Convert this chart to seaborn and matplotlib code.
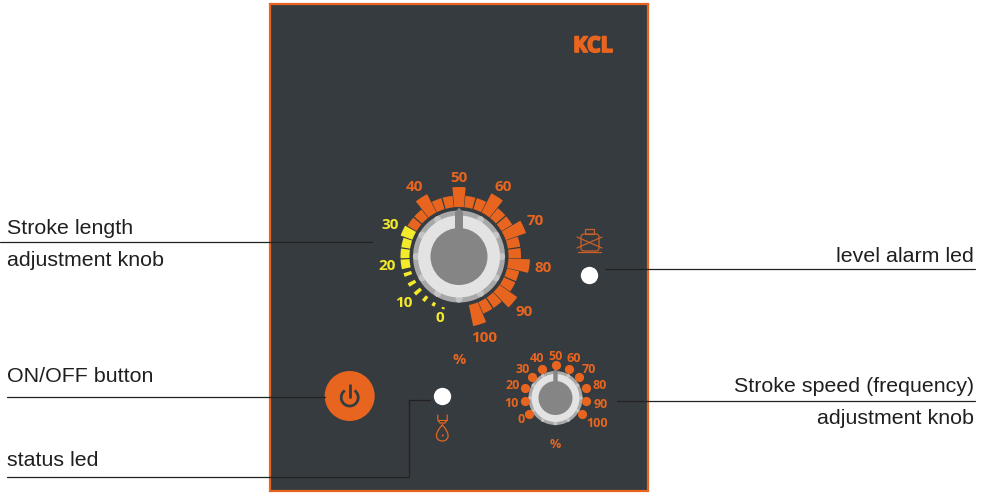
import numpy as np
import pandas as pd
import seaborn as sns
import matplotlib.pyplot as plt
import matplotlib.patheffects as pe
from matplotlib.patches import Circle, Rectangle, Polygon, Arc, FancyBboxPatch

W, H = 987, 493

# big dial: one bar per step of the 0-100 scale
big_labels = ['0', '10', '20', '30', '40', '50', '60', '70', '80', '90', '100']
big_label_r = [64, 72, 73, 76, 82, 79, 82, 84, 85, 85, 85]
bar_steps = list(range(31))
bar_tops = [55, 56, 57, 58, 58, 58, 58.5, 58.5, 58.5, 62, 60, 60, 70, 61, 61, 69.5,
            61, 61, 71, 62, 62, 71, 62, 62, 71, 62, 62, 71, 62, 62, 71]
bar_bottoms = [53, 52, 51, 50, 50, 50, 49.5, 49.5, 49.5, 49.5, 49.5, 49.5, 49.5, 49.5, 49.5, 49.5,
               49.5, 49.5, 49.5, 49.5, 49.5, 49.5, 49.5, 49.5, 49.5, 49.5, 49.5, 49.5, 49.5, 49.5, 49.5]
bar_widths = [3, 3.4, 3.6, 3.8, 3.8, 3.8, 9.6, 9.6, 9.6, 10, 9.6, 9.6, 11, 9.6, 9.6, 11,
              9.6, 9.6, 11, 9.6, 9.6, 11, 9.6, 9.6, 11, 9.6, 9.6, 11, 9.6, 9.6, 11]
yellow_steps = 10

# small dial
small_labels = ['0', '10', '20', '30', '40', '50', '60', '70', '80', '90', '100']
small_label_r = [40, 44, 45, 44, 45, 43, 45, 45, 46, 45, 47.5]
small_dot_r = [31, 31, 32, 32, 32, 33, 32, 32, 32, 31, 31]

orange = '#e8651f'
yellow = '#f4ea2c'
panel = '#363b3f'
line = '#222222'
ink = '#1f1f1f'

sns.set_theme(style='white')
plt.rcParams['font.family'] = ['Liberation Sans', 'DejaVu Sans']

fig = plt.figure(figsize=(W / 100, H / 100), dpi=100, facecolor='white')
ax = fig.add_axes([0, 0, 1, 1])
ax.set_xlim(0, W)
ax.set_ylim(H, 0)
ax.axis('off')

ax.add_patch(Rectangle((270, 4), 378, 487, fc=panel, ec=orange, lw=1.6))


def leader(xs, ys):
    pts = pd.DataFrame({'x': xs, 'y': ys, 'o': range(len(xs))})
    sns.lineplot(data=pts, x='x', y='y', sort=False, estimator=None, color=line,
                 lw=0.9, ax=ax, legend=False)


leader([0, 372], [242, 242])
leader([605, 975], [269, 269])
leader([7, 325], [397, 397])
leader([617, 975], [401, 401])
leader([7, 409, 409, 430], [476.5, 476.5, 400, 400])
ax.set_xlabel('')
ax.set_ylabel('')

for s, x, y, ha in [('Stroke length', 7, 228, 'left'),
                    ('adjustment knob', 7, 260, 'left'),
                    ('ON/OFF button', 7, 376, 'left'),
                    ('status led', 7, 460, 'left'),
                    ('level alarm led', 974, 256, 'right'),
                    ('Stroke speed (frequency)', 974, 386, 'right'),
                    ('adjustment knob', 974, 418, 'right')]:
    ax.text(x, y, s, ha=ha, va='center', fontsize=15.4, color=ink)

kcl = ax.text(593, 46.5, 'KCL', ha='center', va='center', color=orange, fontsize=15.5,
              family='Open Sans', weight='bold')
kcl.set_path_effects([pe.Stroke(linewidth=1.3, foreground=orange), pe.Normal()])


def knob(cx, cy, r_out, r_ring, r_mid, bumps, bump_r, r_tip, half_w, shoulder):
    ax.add_patch(Circle((cx, cy), r_out, fc='#a8a8a8', ec='none'))
    for a in np.deg2rad(np.arange(0, 360, bumps)):
        ax.add_patch(Circle((cx + (r_ring + 1.5) * np.sin(a), cy - (r_ring + 1.5) * np.cos(a)),
                            bump_r, fc='#c4c4c4', ec='none'))
    ax.add_patch(Circle((cx, cy), r_ring, fc='#e3e3e3', ec='none'))
    ax.add_patch(Circle((cx, cy), r_mid, fc='#858585', ec='none'))
    ax.add_patch(Polygon([(cx - half_w, cy - r_mid + 3), (cx - half_w, cy - shoulder),
                          (cx, cy - r_tip), (cx + half_w, cy - shoulder),
                          (cx + half_w, cy - r_mid + 3)], fc='#858585', ec='none'))


knob(459, 256.5, 46, 41, 28.5, 30, 3.6, 49, 4, 44)
knob(555.5, 398, 27, 24, 17, 30, 1.8, 29, 2.2, 27)

# on/off button
ax.add_patch(Circle((349.7, 396), 25, fc=orange, ec='none'))
ax.add_patch(Arc((349.7, 397.5), 17, 17, theta1=-55, theta2=235, color=panel, lw=2))
ax.plot([349.7, 349.7], [385, 397], color=panel, lw=2, solid_capstyle='round')

# leds
sns.scatterplot(x=[442, 589], y=[396, 275], s=156, color='white', linewidth=0, ax=ax, zorder=4)
ax.set_xlabel('')
ax.set_ylabel('')

# drop icon under status led
ax.plot([437.8, 437.8, 440, 445, 447.2, 447.2], [415, 420, 423, 423, 420, 415], color=orange, lw=0.9)
ax.plot([438, 447], [420, 420], color=orange, lw=0.8)
t = np.linspace(0, 2 * np.pi, 80)
ax.plot(442.3 + 7.5 * np.sin(t) * np.sin(t / 2), 433 - 8 * np.cos(t), color=orange, lw=0.9)
ax.add_patch(Circle((442.8, 435.5), 1, fc=orange, ec='none'))

# level alarm icon
icon = '#c9602a'
ax.add_patch(FancyBboxPatch((581, 234), 18, 17, boxstyle='round,pad=0,rounding_size=3', fc='none', ec=icon, lw=0.9))
ax.add_patch(Rectangle((585, 228.5), 9, 5, fc='none', ec=icon, lw=0.9))
ax.plot([578, 601], [252, 252], color=icon, lw=0.9)
ax.plot([577, 602], [237, 248], color=icon, lw=0.9)
ax.plot([577, 602], [248, 237], color=icon, lw=0.9)


def dial_axes(cx, cy, R):
    pax = fig.add_axes([(cx - R) / W, 1 - (cy + R) / H, 2 * R / W, 2 * R / H], projection='polar')
    pax.set_theta_zero_location('N')
    pax.set_theta_direction(-1)
    pax.patch.set_alpha(0)
    return pax


big_step = np.deg2rad(326 / 30)
bax = dial_axes(459, 256.5, 100)
for i, step in enumerate(bar_steps):
    bax.bar(np.deg2rad(-163) + step * big_step, bar_tops[i] - bar_bottoms[i],
            width=np.deg2rad(bar_widths[i]), bottom=bar_bottoms[i],
            color=yellow if i < yellow_steps else orange, linewidth=0)
for i, s in enumerate(big_labels):
    bax.text(np.deg2rad(-163) + i * 3 * big_step, big_label_r[i], s, ha='center', va='center',
             color=yellow if i < 4 else orange, fontsize=11, family='Open Sans', weight='bold')
bax.text(np.pi, 104, '%', ha='center', va='center', color=orange, fontsize=10.5,
         family='Open Sans', weight='bold')
bax.set_ylim(0, 100)
bax.axis('off')

sax = dial_axes(555.5, 398, 60)
small_theta = np.deg2rad(np.arange(11) * 24 - 120)
sns.scatterplot(x=small_theta, y=small_dot_r, s=44, color=orange, linewidth=0, ax=sax)
for i, s in enumerate(small_labels):
    sax.annotate(s, (small_theta[i], small_label_r[i]), xytext=(0, -1), textcoords='offset points',
                 ha='center', va='center', color=orange, fontsize=9, family='Open Sans', weight='bold')
sax.text(np.pi, 47, '%', ha='center', va='center', color=orange, fontsize=9,
         family='Open Sans', weight='bold')
sax.set_ylim(0, 60)
sax.axis('off')

fig.savefig('out.png', dpi=100)
